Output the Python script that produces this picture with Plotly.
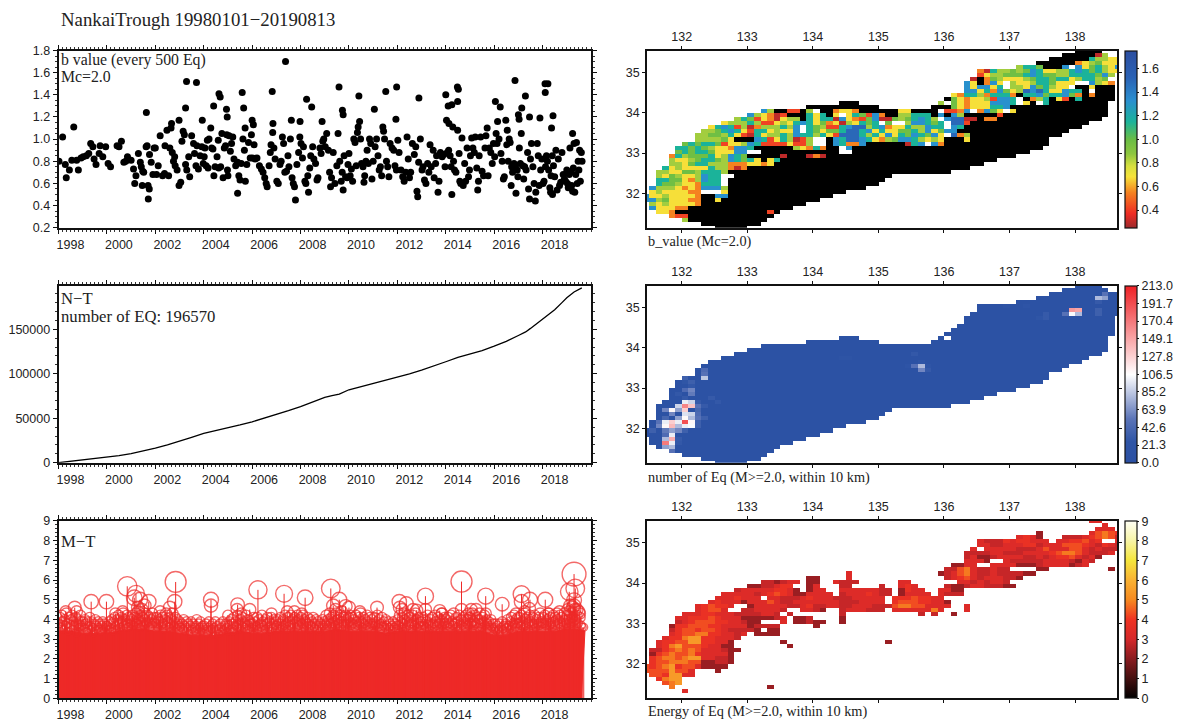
import plotly.graph_objects as go

W, H = 1184, 722
RED = "#ee2a28"
TITLE = "NankaiTrough 19980101\u221220190813"

# ---------- b value against time: isolated high and low events, then the central mass year by year
b_high = [(2007.38,1.70),(2003.29,1.52),(2003.70,1.51),(2016.86,1.53),(2005.59,1.42),(2004.63,1.41),(2004.68,1.38),(2004.41,1.30),(2006.83,1.43),(2008.25,1.36),(2008.46,1.29),(2009.59,1.47),(2010.41,1.39),(2011.52,1.43),(2011.97,1.47),(2012.89,1.37),(2014.0,1.40),(2014.48,1.47),(2014.52,1.45),(2014.49,1.34),(2014.1,1.30),(2014.25,1.31),(2016.05,1.34),(2016.25,1.29),(2017.29,1.39),(2017.14,1.28),(2017.0,1.22),(2017.03,1.18),(2018.1,1.50),(2018.22,1.50),(2018.11,1.42),(2018.43,1.21),(2017.46,1.20),(2017.89,1.19),(2018.37,1.10),(2019.24,1.05),(2005.65,1.28),(2004.97,1.20),(2004.94,1.27),(2003.25,1.28),(2001.63,1.24),(2009.73,1.26),(2009.76,1.22),(2011.05,1.27),(2011.94,1.18),(2008.89,1.16),(2007.98,1.16),(2007.62,1.17),(2003.94,1.17),(2006.86,1.14),(2006.0,1.17),(2006.05,1.13),(2005.71,1.10),(2004.29,1.10),(2002.98,1.17),(2002.67,1.14),(2002.65,1.10),(1998.63,1.11),(1998.17,1.02),(2010.44,1.16),(2010.38,1.11),(2011.4,1.11),(2011.43,1.07),(2014.03,1.17),(2014.13,1.14),(2014.29,1.11),(2014.49,1.08),(2015.71,1.10),(2016.14,1.16),(2016.48,1.17),(2016.54,1.08)]
b_low = [(2001.71,.46),(2001.75,.55),(2001.46,.58),(2005.4,.51),(2007.79,.45),(2008.33,.52),(2012.81,.53),(2012.84,.48),(2013.68,.52),(2014.25,.50),(2015.32,.54),(2016.7,.58),(2016.9,.51),(2017.46,.46),(2017.7,.44),(2018.33,.52),(2018.41,.50),(2009.76,.54),(2009.24,.57)]
b_m1998 = [(1998.02,.80),(1998.28,.77),(1998.32,.65),(1998.45,.72),(1998.55,.81),(1998.75,.81),(1998.82,.72),(1998.93,.83)]
b_m1999 = [(1999.02,.84),(1999.15,.85),(1999.25,.87),(1999.33,.96),(1999.42,.93),(1999.47,.82),(1999.55,.77),(1999.68,.87),(1999.72,.94),(1999.83,.84),(1999.95,.93)]
b_m2000 = [(2000.05,.78),(2000.15,.75),(2000.42,.94),(2000.5,.93),(2000.6,.98),(2000.7,.79),(2000.78,.80),(2000.85,.84)]
b_m2001 = [(2001.0,.81),(2001.1,.73),(2001.15,.60),(2001.2,.67),(2001.3,.87),(2001.38,.79),(2001.42,.75),(2001.48,.71),(2001.52,.70),(2001.62,.93),(2001.66,.94),(2001.7,.58),(2001.76,.86),(2001.83,.79),(2001.9,.68),(2001.95,.92)]
b_m2002 = [(2002.0,.92),(2002.05,.68),(2002.12,.76),(2002.2,1.03),(2002.3,.67),(2002.38,.69),(2002.4,.94),(2002.48,1.08),(2002.55,.67),(2002.6,.92),(2002.7,.88),(2002.75,.80),(2002.8,.84),(2002.82,.76),(2002.9,.72),(2002.98,.58)]
b_m2003 = [(2003.05,.61),(2003.1,.98),(2003.15,1.07),(2003.2,1.04),(2003.25,.77),(2003.3,.72),(2003.38,.84),(2003.42,.66),(2003.5,1.03),(2003.58,.96),(2003.62,.87),(2003.68,.76),(2003.72,.94),(2003.78,.73),(2003.85,.85),(2003.92,.93),(2003.98,.78)]
b_m2004 = [(2004.02,.84),(2004.05,.92),(2004.1,.76),(2004.15,.99),(2004.18,.74),(2004.22,1.0),(2004.33,.92),(2004.38,.91),(2004.42,.67),(2004.47,.75),(2004.55,.84),(2004.6,.99),(2004.62,.74),(2004.7,.75),(2004.75,1.05),(2004.8,.65),(2004.85,.92),(2004.9,.94),(2004.95,1.04),(2004.98,.72)]
b_m2005 = [(2005.0,.67),(2005.05,1.03),(2005.1,.89),(2005.15,.96),(2005.2,1.02),(2005.25,.82),(2005.32,.76),(2005.4,.79),(2005.45,.67),(2005.5,.63),(2005.55,.78),(2005.62,1.0),(2005.68,.90),(2005.72,.62),(2005.78,.77),(2005.85,.97),(2005.92,.83),(2005.97,1.04)]
b_m2006 = [(2006.02,.83),(2006.08,.95),(2006.12,.82),(2006.2,.83),(2006.3,.76),(2006.38,.73),(2006.45,.70),(2006.52,.65),(2006.58,.60),(2006.62,.57),(2006.7,.76),(2006.75,.88),(2006.78,.95),(2006.85,1.06),(2006.9,.92),(2006.95,.82)]
b_m2007 = [(2007.02,.62),(2007.08,.60),(2007.15,.77),(2007.2,.80),(2007.25,1.02),(2007.3,.96),(2007.35,.70),(2007.42,.71),(2007.48,.85),(2007.52,.75),(2007.58,1.0),(2007.65,.65),(2007.7,.60),(2007.75,.57),(2007.85,.77),(2007.92,.88),(2007.97,1.02)]
b_m2008 = [(2008.02,.96),(2008.08,.83),(2008.12,.93),(2008.18,.62),(2008.22,.60),(2008.3,.67),(2008.38,.74),(2008.42,.85),(2008.5,.93),(2008.55,.82),(2008.62,.78),(2008.68,.63),(2008.72,.65),(2008.8,.92),(2008.85,.87),(2008.92,.98),(2008.96,1.0)]
b_m2009 = [(2009.02,.93),(2009.08,1.05),(2009.15,.90),(2009.2,.70),(2009.28,.65),(2009.35,.88),(2009.42,.60),(2009.5,.76),(2009.55,1.05),(2009.62,.80),(2009.68,.62),(2009.72,.70),(2009.8,.85),(2009.86,.66),(2009.92,.65),(2009.96,.77)]
b_m2010 = [(2010.0,.87),(2010.05,.67),(2010.1,.73),(2010.15,.62),(2010.2,1.0),(2010.25,.97),(2010.3,.76),(2010.35,1.06),(2010.48,1.0),(2010.52,.78),(2010.58,.75),(2010.62,.61),(2010.65,.67),(2010.7,.80),(2010.75,.90),(2010.8,.78),(2010.85,1.0),(2010.9,.96),(2010.95,.64)]
b_m2011 = [(2011.0,.80),(2011.08,.93),(2011.14,1.0),(2011.2,.85),(2011.25,.72),(2011.3,.75),(2011.35,.67),(2011.47,1.0),(2011.55,.80),(2011.6,.75),(2011.65,.66),(2011.7,.96),(2011.78,.92),(2011.85,.90),(2011.9,.76),(2011.96,.72)]
b_m2012 = [(2012.02,.99),(2012.07,.88),(2012.15,.72),(2012.22,.66),(2012.28,.62),(2012.35,.70),(2012.4,1.02),(2012.45,.82),(2012.5,.65),(2012.55,.70),(2012.62,.96),(2012.7,.86),(2012.76,.93),(2012.88,.79),(2012.95,1.0)]
b_m2013 = [(2013.02,.72),(2013.06,.75),(2013.12,.63),(2013.18,.60),(2013.25,.78),(2013.3,.70),(2013.35,.95),(2013.4,.75),(2013.48,.90),(2013.52,.65),(2013.58,.78),(2013.62,.85),(2013.72,.62),(2013.78,.88),(2013.85,.84),(2013.92,.86),(2013.97,.75)]
b_m2014 = [(2014.06,.88),(2014.12,.90),(2014.18,.85),(2014.22,.75),(2014.32,.80),(2014.36,.72),(2014.42,.70),(2014.55,.87),(2014.58,.62),(2014.62,.60),(2014.67,1.01),(2014.72,.58),(2014.78,.78),(2014.82,.62),(2014.88,.92),(2014.94,.66),(2014.98,.72)]
b_m2015 = [(2015.02,.85),(2015.07,1.01),(2015.12,.92),(2015.18,.88),(2015.22,1.02),(2015.28,.74),(2015.35,.62),(2015.38,.85),(2015.44,1.02),(2015.5,.71),(2015.56,.67),(2015.62,.92),(2015.66,1.03),(2015.75,.67),(2015.8,.92),(2015.86,.88),(2015.92,.78),(2015.97,.96)]
b_m2016 = [(2016.02,.84),(2016.08,1.05),(2016.12,.96),(2016.2,1.0),(2016.28,.87),(2016.33,.80),(2016.38,.64),(2016.42,.66),(2016.52,.95),(2016.58,.80),(2016.62,1.0),(2016.66,.97),(2016.72,.75),(2016.76,.70),(2016.82,.78),(2016.88,.76),(2016.95,.72),(2016.98,.66)]
b_m2017 = [(2017.04,.92),(2017.08,.78),(2017.12,1.05),(2017.18,.76),(2017.22,.64),(2017.26,.75),(2017.32,.72),(2017.38,.88),(2017.42,.55),(2017.5,.82),(2017.54,.96),(2017.6,.75),(2017.65,.60),(2017.72,.52),(2017.78,.96),(2017.82,.85),(2017.86,.58),(2017.92,.72),(2017.97,.82)]
b_m2018 = [(2018.02,.60),(2018.06,.62),(2018.12,.75),(2018.16,.85),(2018.2,.80),(2018.25,.72),(2018.3,.56),(2018.35,.67),(2018.4,.85),(2018.45,.76),(2018.5,.66),(2018.55,.90),(2018.6,.54),(2018.65,.82),(2018.7,.58),(2018.75,.61),(2018.8,.88),(2018.85,.68),(2018.9,.64),(2018.95,.62)]
b_m2019 = [(2019.0,.72),(2019.03,.60),(2019.06,.56),(2019.1,.68),(2019.13,.92),(2019.17,.70),(2019.2,.58),(2019.24,.53),(2019.27,.74),(2019.3,.96),(2019.33,.52),(2019.37,.68),(2019.4,.97),(2019.43,.60),(2019.47,.80),(2019.5,.72),(2019.53,.90),(2019.56,.62),(2019.6,.88),(2019.63,.80)]
b_series = [b_high,b_low,b_m1998,b_m1999,b_m2000,b_m2001,b_m2002,b_m2003,b_m2004,b_m2005,b_m2006,b_m2007,b_m2008,b_m2009,b_m2010,b_m2011,b_m2012,b_m2013,b_m2014,b_m2015,b_m2016,b_m2017,b_m2018,b_m2019]
b_time = [p[0] for s in b_series for p in s]
b_value = [p[1] for s in b_series for p in s]

# ---------- cumulative number
nt_time = [1998,1998.5,1999,1999.5,2000,2000.5,2001,2001.5,2002,2002.5,2003,2003.5,2004,2004.5,2005,2005.5,2006,2006.5,2007,2007.5,2008,2008.5,2009,2009.3,2009.6,2010,2010.5,2011,2011.5,2012,2012.5,2013,2013.5,2014,2014.5,2015,2015.5,2016,2016.5,2017,2017.3,2017.5,2017.8,2018,2018.2,2018.5,2018.8,2019,2019.3,2019.62]
nt_count = [0,1500,3000,4800,6300,8000,10200,13000,16500,20000,24000,28500,33000,36000,39000,42500,46000,50000,54000,58500,63000,68000,73500,75500,77000,82000,85500,89000,92500,96000,100000,104000,108500,113500,118500,122000,126000,131000,136500,143000,147000,151000,157000,161500,166000,172000,180000,185500,192000,196570]

# ---------- M-T: solid body of the stems, then the individual events
mt_env_time = [1998,1998.5,1999,1999.5,2000,2000.5,2001,2001.5,2002,2002.5,2003,2003.5,2004,2004.5,2005,2005.5,2006,2006.5,2007,2007.5,2008,2008.5,2009,2009.5,2010,2010.5,2011,2011.5,2012,2012.5,2013,2013.5,2014,2014.5,2015,2015.5,2016,2016.5,2017,2017.5,2018,2018.5,2019,2019.4,2019.75,2019.6]
mt_env_mag = [3.4,3.4,3.3,3.3,3.3,3.4,3.5,3.5,3.4,3.4,3.3,3.2,3.2,3.2,3.3,3.4,3.3,3.3,3.4,3.4,3.4,3.4,3.4,3.5,3.4,3.4,3.4,3.3,3.4,3.4,3.4,3.4,3.4,3.4,3.4,3.4,3.2,3.2,3.4,3.4,3.4,3.4,3.5,3.5,3.4,0]
mt_large = [(2000.84,5.68),(2001.2,5.3),(2001.13,5.1),(2001.73,4.9),(2001.37,5.0),(2002.84,5.9),(2002.8,4.9),(1999.35,4.9),(1999.98,4.9),(1998.67,4.6),(1998.3,4.4),(1998.75,4.4),(2004.3,5.0),(2004.3,4.7),(2005.4,4.75),(2005.38,4.5),(2005.9,4.5),(2006.24,5.5),(2007.32,5.3),(2008.19,5.1),(2009.25,5.57),(2009.6,5.0),(2009.35,4.7),(2009.86,4.67),(2010.0,4.6),(2011.16,4.6),(2012.08,4.9),(2012.37,4.8),(2012.1,4.6),(2012.8,4.47),(2013.16,5.18),(2013.16,4.5),(2013.75,4.45),(2014.65,5.92),(2014.65,4.5),(2015.25,4.5),(2015.65,5.18),(2015.65,4.3),(2016.33,4.77),(2017.13,5.28),(2017.13,4.9),(2017.48,5.0),(2017.45,4.55),(2018.11,5.0),(2019.3,6.3),(2019.35,5.57),(2019.1,5.4),(2019.3,4.97),(2019.3,4.7),(2019.54,4.3),(2000.35,4.3),(2000.65,4.4),(2001.55,4.7),(2001.28,4.6),(2001.45,4.5),(2002.2,4.4),(2002.6,4.6),(2002.45,4.3),(2005.0,4.2),(2005.55,4.3),(2006.8,4.3),(2007.45,4.4),(2007.75,4.4),(2008.05,4.3),(2009.45,4.5),(2009.7,4.4),(2010.45,4.4),(2012.2,4.5),(2012.65,4.5),(2013.85,4.3),(2014.95,4.3),(2015.05,4.5),(2016.9,4.3),(2017.25,4.4),(2018.25,4.3),(2018.7,4.4),(2019.05,4.5),(2019.15,4.7),(2019.25,4.6),(2019.42,4.5),(2019.7,3.6)]
# year-by-year magnitudes (tenths) of the dense band under the large events, in time order
mt_y1998 = [38,41,36,42,39,35,40,37,43,38,34,41,36,40,42,35,39,37,41,33,40,38,36,42,39,37]
mt_y1999 = [39,36,40,38,34,39,37,41,35,39,36,33,38,40,37,35,39,36,38,34,37,39,35,38,36,37]
mt_y2000 = [37,35,39,36,38,40,34,39,41,37,35,40,42,38,36,41,39,43,37,40,38,42,36,41,39,38]
mt_y2001 = [40,42,37,41,39,43,38,44,40,36,42,39,41,37,43,40,38,42,39,41,36,40,43,38,41,39]
mt_y2002 = [38,41,36,40,39,42,37,41,38,35,40,37,42,39,36,41,38,40,43,37,39,41,36,40,38,37]
mt_y2003 = [39,36,38,35,40,37,34,39,36,38,33,37,39,35,38,36,34,37,40,35,38,36,39,34,37,36]
mt_y2004 = [37,35,38,33,36,39,34,37,35,38,32,36,39,34,37,35,33,38,36,34,39,35,37,38,36,34]
mt_y2005 = [37,39,35,40,38,34,41,37,39,36,42,38,35,40,37,41,39,36,38,42,37,40,35,39,38,36]
mt_y2006 = [38,41,36,39,37,41,35,40,38,36,42,39,37,35,40,38,41,36,39,34,41,38,36,40,37,39]
mt_y2007 = [37,40,38,35,41,39,36,40,37,42,38,35,41,39,37,42,36,40,38,41,39,36,42,40,37,39]
mt_y2008 = [41,38,42,36,40,39,37,41,38,35,40,37,39,41,36,38,40,35,39,37,34,38,36,40,37,39]
mt_y2009 = [38,42,37,40,39,43,38,41,36,42,39,37,43,40,38,41,36,42,39,38,41,37,42,40,38,41]
mt_y2010 = [39,42,37,41,38,40,36,42,39,37,41,38,43,39,36,41,38,40,37,42,39,36,41,38,40,37]
mt_y2011 = [38,41,37,39,42,36,40,38,35,41,37,39,36,40,37,34,39,36,38,35,37,39,36,38,35,37]
mt_y2012 = [40,37,42,39,36,41,38,43,40,36,39,42,37,41,38,35,42,39,37,43,40,36,41,38,39,37]
mt_y2013 = [39,41,37,40,36,39,42,38,35,40,37,41,38,36,42,39,37,41,38,35,40,43,37,39,41,38]
mt_y2014 = [40,37,41,38,36,42,39,37,43,38,36,41,39,35,42,38,40,37,41,39,36,42,38,40,37,41]
mt_y2015 = [41,38,43,39,37,42,38,41,36,40,43,38,36,41,39,42,37,40,38,35,39,37,40,36,38,35]
mt_y2016 = [36,38,34,37,35,38,33,36,39,35,37,34,38,36,40,37,35,39,41,37,38,42,36,40,38,41]
mt_y2017 = [38,41,37,42,39,36,43,40,37,41,38,35,42,39,37,41,38,42,36,40,38,41,37,43,39,38]
mt_y2018 = [41,38,42,37,40,39,43,37,41,38,36,42,39,41,37,43,40,38,42,36,41,39,37,43,40,38]
mt_y2019 = [42,40,44,38,43,41,39,45,40,42,38,44,41,37,36]
mt_yearly = [mt_y1998,mt_y1999,mt_y2000,mt_y2001,mt_y2002,mt_y2003,mt_y2004,mt_y2005,mt_y2006,mt_y2007,mt_y2008,mt_y2009,mt_y2010,mt_y2011,mt_y2012,mt_y2013,mt_y2014,mt_y2015,mt_y2016,mt_y2017,mt_y2018,mt_y2019]
mt_year_span = [1]*21 + [0.66]
mt_time, mt_mag = [], []
for k, (mags, span) in enumerate(zip(mt_yearly, mt_year_span)):
    for i, m in enumerate(mags):
        mt_time.append(1998 + k + span * (i + 0.5) / len(mags))
        mt_mag.append(m / 10)
mt_time += [e[0] for e in mt_large]
mt_mag += [e[1] for e in mt_large]

# ---------- map grid: row index from the top, column index from the west
lat_top_center, lon_west_center, grid_step = 35.54, 131.45, 0.1
n_rows, n_cols = 45, 73
mask_end = [69,70,72,72,72,72,72,72,71,71,71,71,71,70,70,70,70,69,67,66,64,63,61,61,60,58,56,53,51,49,46,37,36,35,33,30,28,26,24,22,20,19,18,17,15]

b_letters = {"r":.30,"R":.42,"o":.55,"y":.68,"g":.85,"G":.98,"t":1.15,"b":1.32,"B":1.5}
b_rows = [
"66:kkkk","64:kkkkkrg","62:kkkkkktggyy","60:kkkkkkoygGyyy","57:gttGkkkbwbyGtgyb",
"51:ortggGgGbtyyggtbtGtgyy","51:RyggGGGtbtGGggttttGbgw","50:rkoGgyyygGttGttygttgGww",
"49:bykobywgyygttGyyywwbgyo","49:bybbytwggybGtgyywkky","48:wbbytobGygBbBtyybttkw",
"47:yottgotttokttbGttbGoko","46:kGyoyygRbbtwkogtkyRkt","30:kkk 45:g.Gyoyyybbbtwykwt",
"25:kkkkkkkkkkk 44:kkkGyoyyyttb","18:bgkkRRkgwkkoyyokkkkkkyykkkkwRRobwobGywy",
"16:bgyorRkkktytkywytGRbokkggtttkbkbgkkkkkR","14:gtGRyoryggktyttrbyoRGbrrGgGtbtgwbBBrrkoo",
"12:ygggtgRRygytbtyGoyrgytGtwGwwgbbtGtwBBR","10:ytbtRgrogggtgbwtGgRRtbBBgtboyytggbttwbt",
"9:ggGtbtyRttygyybwtGyGGtBBtbytyyGGtgbyGbb","8:ggGGgtyRrtyggtgbttgtyRBBBtgtybytGbtGbywBog",
"8:ggggGykkkbtRytgrRgwwkbtBBbtyogGbbtgygykkky","6:GtGttGRyygbtRRRRyRRgwwkbtoobkkkkkkrtbwbo",
"5:ttGtGgyyobbtkkkkkkgyotokkwb","5:GtGttGyyybbwwkkkkkkkkkkkkww","4:otgGGGtygbtGkkkkkrkkkror",
"4:gyygGttGgbtGtykyt","4:ggyGttgggoooyyoy","3:tygyyyytggoro","2:ggyyGGgtttg","2:gyGgyygbttww",
"2:ttGGyogbttw","2:tGGgyyotttw","1:bgggyoyobbbg","1:ygyyyyoowwwy","0:byygyyyyokkbb",
"0:bbgGyyyookky","1:gygyyyyo","1:byyyoo","2:yyokkkkkkkkkkkkkkR","4:oRR","6:g","9:k","11:k"]

count_base = 9
hot_r = [30,31,30,30,29,29,31,31,31,32,32,32,33,33,33,34,34,34,34,34,35,35,35,35,35,35,34,36,36,36,37,38,38,39,39,40,40,41,37,36,23,22,21,26,26,27,30,33,33,34,23,24,28,29,6,6,7,7,7,3,3,2,4,6,7,7,8,8,5,5,20,21,20,17,20,18,18,32,31,30,28,27,33,35,36,38,39,25,24,29,20,19,21]
hot_c = [6,6,7,5,7,6,4,5,3,4,6,7,6,7,5,6,7,5,3,4,3,4,5,6,7,2,2,4,5,3,4,4,3,3,4,3,4,4,3,1,9,9,9,7,6,7,8,8,9,8,6,7,10,11,65,66,65,66,64,69,70,70,69,69,69,61,61,60,58,55,42,42,41,41,43,31,30,8,8,9,6,5,3,8,6,5,5,7,6,8,40,42,43]
hot_v = [165,130,135,90,90,100,110,70,60,60,95,90,110,80,70,190,110,100,100,130,110,140,80,100,105,60,50,70,60,55,100,145,80,170,100,70,80,50,45,35,85,50,45,60,45,55,50,50,35,35,35,35,30,28,155,150,105,80,50,80,70,50,30,35,35,30,30,25,22,20,80,60,50,28,25,20,20,45,40,30,30,28,40,35,35,30,28,28,26,30,22,24,30]

e_letters = {"d":2.2,"e":2.8,"f":3.3,"h":3.8,"i":4.3,"j":4.8,"l":5.4}
e_rows = [
"68:ff","70:f","69:fff","60:d 68:fijih","57:fhfd 64:eeefhijie","51:feeehfhhfff 63:ffhhifh..f",
"51:ffeefffhhefffiiihfehfe","50:f.fffffeeefifffiifefeee","49:eeeeffeeeffffhijjifeeef",
"49:efddeffffeefefhhifefd","49:fffd..feeeeeffffedfe","47:ddff..ffffdddeffffdef",
"46:eeijfeefee....dd 71:d","31:f 45:defijfeefeeeedd","25:dd 31:f 46:efhifefffeed",
"18:eedeff 25:dd 29:feee 39:ff 48:ffefeffe","16:ddeefhh 25:df 30:ee 36:e 39:fhf 46:eddeffeeedd",
"14:efffffhhfd 25:dff 30:ffffff 36:ee 39:dhff 45:ffdd","12:fffffefhihfdd 25:ffff 30:efffhfee 39:dffff 45:feee",
"11:fffhfff.ffeeefhfffeeefffff 38:hhhihhff","10:fhfffdfffifeefffffffeeeffff 38:hiiihhff 46:d",
"8:fhihhf..dfffffeefheeffeefffeee 38:ijjiiffff 49:f","8:fhiif..eeffffe..ffed 30:efffeee 38:ffffffjf 49:f",
"6:fffhhfffeeeeffe 22:e 30:e 42:e 44:e 47:d","5:ffhhhihfffdddddef 23:dde 30:d","5:efhiiihhffedd...f 23:ddedd 30:d",
"4:dhhiiihhffffdeeee 26:d","4:ehiihiihfeeeed.dd","4:fhiijjhhffef.dddd","3:fhhjllhhfffe",
"2:fhhiillhhffd 21:d 37:d","2:fhjliiihffdd 22:d","1:eehijijifffedd","1:dhijiijhffffd",
"1:hijjijllffeed","1:hiijjjiiddeed","0:ihijlhiifdddd","0:iiiiliif 11:d","1:iihllff","2:hjll","3:ijl","4:j 19:d","6:f"]

year_ticks = list(range(1998, 2020, 2))
lon_ticks = [132,133,134,135,136,137,138]
lat_ticks = [32,33,34,35]
b_ticks = [0.2,0.4,0.6,0.8,1.0,1.2,1.4,1.6,1.8]
nt_ticks = [0,50000,100000,150000]
mt_ticks = [0,1,2,3,4,5,6,7,8,9]
cb_b_ticks = [0.4,0.6,0.8,1.0,1.2,1.4,1.6]
cb_n_ticks = [0.0,21.3,42.6,63.9,85.2,106.5,127.8,149.1,170.4,191.7,213.0]
cb_e_ticks = [0,1,2,3,4,5,6,7,8,9]


def empty_grid():
    return [[None] * n_cols for _ in range(n_rows)]


def parse_segments(text):
    for seg in text.split():
        start, cells = seg.split(":")
        yield int(start), cells


lats = [lat_top_center - grid_step * r for r in range(n_rows)]
lons = [lon_west_center + grid_step * c for c in range(n_cols)]

z_black, z_b, z_n = empty_grid(), empty_grid(), empty_grid()
for r, row in enumerate(b_rows):
    last = 0
    for start, cells in parse_segments(row):
        for i, ch in enumerate(cells):
            c = start + i
            if ch == ".":
                continue
            z_n[r][c] = count_base
            if ch == "k":
                z_black[r][c] = 1
            elif ch in b_letters:
                z_b[r][c] = b_letters[ch]
            last = c
    for c in range(last + 1, mask_end[r] + 1):
        z_black[r][c] = 1
        z_n[r][c] = count_base
for r, c, v in zip(hot_r, hot_c, hot_v):
    z_n[r][c] = v

z_e = empty_grid()
for r, row in enumerate(e_rows):
    for start, cells in parse_segments(row):
        for i, ch in enumerate(cells):
            if ch in e_letters:
                z_e[r][start + i] = e_letters[ch]

# ---------- layout (pixels, converted to paper fractions)
LX0, LX1 = 58.5, 591
MX0, MX1 = 647, 1117
CB0, CB1 = 1125, 1137
ROWS = [(50.5, 227.7), (285.7, 462.7), (520.9, 698.2)]


def fx(px):
    return px / W


def fy(px):
    return 1 - px / H


fig = go.Figure()
AXFONT = dict(family="Liberation Sans, Arial, sans-serif", size=12.5, color="#222")
SERIF = "Liberation Serif, Times New Roman, serif"
layout = dict(
    width=W, height=H, margin=dict(l=0, r=0, t=0, b=0, autoexpand=False), autosize=False,
    paper_bgcolor="white", plot_bgcolor="white", showlegend=False, annotations=[],
)


def frame(**kw):
    base = dict(showgrid=False, zeroline=False, showline=True, linecolor="#111", linewidth=1.6,
                mirror="ticks", ticks="outside", tickcolor="#111", tickwidth=1, tickfont=AXFONT)
    base.update(kw)
    return base


ytick_sets = [(b_ticks, [f"{v:.1f}" for v in b_ticks], [0.2, 1.8], 0.05, 0.2),
              (nt_ticks, [str(v) for v in nt_ticks], [0, 199000], 10000, 0),
              (mt_ticks, [str(v) for v in mt_ticks], [0, 9], 0.2, 0)]
for i, (y0, y1) in enumerate(ROWS):
    ax = i * 2 + 1
    xn, yn = f"xaxis{ax if ax > 1 else ''}", f"yaxis{ax if ax > 1 else ''}"
    layout[xn] = frame(domain=[fx(LX0), fx(LX1)], range=[1998, 2020], tickmode="array",
                       tickvals=year_ticks, ticktext=[str(y) for y in year_ticks], ticklen=4,
                       ticklabelshift=12, anchor=f"y{ax if ax > 1 else ''}",
                       minor=dict(ticks="outside", ticklen=2, tick0=1998, dtick=1 / 6, tickcolor="#333", tickwidth=0.8))
    tv, tt, rng, mn, m0 = ytick_sets[i]
    layout[yn] = frame(domain=[fy(y1), fy(y0)], range=rng, tickmode="array", tickvals=tv, ticktext=tt,
                       ticklen=4, anchor=f"x{ax if ax > 1 else ''}",
                       minor=dict(ticks="outside", ticklen=2, tick0=m0, dtick=mn, tickcolor="#333", tickwidth=0.8))
    bx, by = ax + 1, ax + 1
    layout[f"xaxis{bx}"] = frame(domain=[fx(MX0), fx(MX1)], range=[131.47, 138.64], side="top", tickmode="array",
                                 tickvals=lon_ticks, ticktext=[str(v) for v in lon_ticks], ticklen=3, anchor=f"y{by}")
    layout[f"yaxis{by}"] = frame(domain=[fy(y1), fy(y0)], range=[31.15, 35.54], tickmode="array",
                                 tickvals=lat_ticks, ticktext=[str(v) for v in lat_ticks], ticklen=3, anchor=f"x{bx}")

# left panels
fig.add_trace(go.Scatter(x=b_time, y=b_value, mode="markers", marker=dict(color="black", size=7), xaxis="x", yaxis="y", cliponaxis=True))
fig.add_trace(go.Scatter(x=nt_time, y=nt_count, mode="lines", line=dict(color="black", width=1.3), xaxis="x3", yaxis="y3"))
fig.add_trace(go.Scatter(x=mt_env_time, y=mt_env_mag, mode="lines", line=dict(color=RED, width=1), fill="tozeroy", fillcolor=RED, xaxis="x5", yaxis="y5"))
stem_x, stem_y = [], []
for t, m in zip(mt_time, mt_mag):
    stem_x += [t, t, None]
    stem_y += [0, m, None]
fig.add_trace(go.Scatter(x=stem_x, y=stem_y, mode="lines", line=dict(color=RED, width=1), xaxis="x5", yaxis="y5"))
fig.add_trace(go.Scatter(x=mt_time, y=mt_mag, mode="markers",
                         marker=dict(symbol="circle-open", color=RED, line=dict(color=RED, width=1.4),
                                     size=[0.6 * m * m for m in mt_mag]),
                         xaxis="x5", yaxis="y5"))


def cbar(row, tickvals, ticktext):
    y0, y1 = ROWS[row]
    return dict(x=fx(CB0), xanchor="left", xref="paper", y=fy(y1), yanchor="bottom", yref="paper",
                len=(y1 - y0) / H, lenmode="fraction", thickness=CB1 - CB0, thicknessmode="pixels",
                outlinewidth=1.2, outlinecolor="#111", tickmode="array", tickvals=tickvals, ticktext=ticktext,
                ticks="outside", ticklen=2, tickcolor="#111", tickfont=AXFONT, xpad=0, ypad=0)


scale_b = [[0, "#9c2a2c"], [0.08, "#ee2b24"], [0.2, "#f58220"], [0.29, "#f6e33a"], [0.35, "#d6df3f"], [0.42, "#8dc63f"],
           [0.5, "#6abd45"], [0.6, "#1bb39a"], [0.72, "#2a8fd0"], [0.85, "#2a62b5"], [1, "#2b4ea0"]]
scale_n = [[0, "#2b50a3"], [0.12, "#2f55a6"], [0.25, "#5c75b8"], [0.5, "#ffffff"], [1, "#ee2024"]]
scale_e = [[0, "#000000"], [1/9, "#451010"], [2/9, "#8a1c20"], [3/9, "#d5282a"], [4/9, "#ef3322"], [5/9, "#f68a20"],
           [6/9, "#f9b233"], [7/9, "#f5e63c"], [8/9, "#f7f4a6"], [1, "#fffff5"]]

fig.add_trace(go.Heatmap(x=lons, y=lats, z=z_black, colorscale=[[0, "black"], [1, "black"]], showscale=False, zmin=0, zmax=1, hoverongaps=False, xaxis="x2", yaxis="y2"))
fig.add_trace(go.Heatmap(x=lons, y=lats, z=z_b, colorscale=scale_b, zmin=0.25, zmax=1.75, xaxis="x2", yaxis="y2",
                         colorbar=cbar(0, cb_b_ticks, [f"{v:.1f}" for v in cb_b_ticks])))
fig.add_trace(go.Heatmap(x=lons, y=lats, z=z_n, colorscale=scale_n, zmin=0, zmax=213, xaxis="x4", yaxis="y4",
                         colorbar=cbar(1, cb_n_ticks, [f"{v:.1f}" for v in cb_n_ticks])))
fig.add_trace(go.Heatmap(x=lons, y=lats, z=z_e, colorscale=scale_e, zmin=0, zmax=9, xaxis="x6", yaxis="y6",
                         colorbar=cbar(2, cb_e_ticks, [str(v) for v in cb_e_ticks])))


def note(text, px, py, size=16.7):
    layout["annotations"].append(dict(text=text, x=fx(px), y=fy(py), xref="paper", yref="paper", xanchor="left",
                                      yanchor="middle", showarrow=False, borderpad=0, font=dict(family=SERIF, size=size, color="#222")))


note(TITLE, 60, 20, 18.8)
note("b value (every 500 Eq)", 60, 60, 15.8)
note("Mc=2.0", 60, 77, 15.8)
note("N\u2212T", 60, 298)
note("number of EQ: 196570", 60, 316)
note("M\u2212T", 60, 541)
note("b_value (Mc=2.0)", 647, 241, 14.3)
note("number of Eq (M>=2.0, within 10 km)", 647, 477, 14.3)
note("Energy of Eq (M>=2.0, within 10 km)", 647, 711, 14.3)

fig.update_layout(**layout)
fig.write_html("out.html", post_script="document.body.style.margin='0';", config={"displayModeBar": False})
